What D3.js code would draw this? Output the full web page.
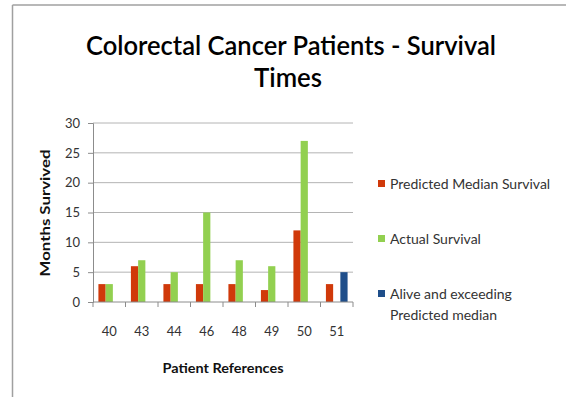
<!DOCTYPE html>
<html>
<head>
<meta charset="utf-8">
<script src="https://cdn.jsdelivr.net/npm/d3@7"></script>
<style>
  html, body { margin: 0; padding: 0; background: #fff; }
  svg { display: block; font-family: Lato, "Open Sans", sans-serif; }
</style>
</head>
<body>
<svg id="chart" width="566" height="397"></svg>
<script>
// Patient reference numbers along the x axis
const patients = ["40", "43", "44", "46", "48", "49", "50", "51"];
// Months survived, one array per series
const predictedMedian = [3, 6, 3, 3, 3, 2, 12, 3];
const actualSurvival = [3, 7, 5, 15, 7, 6, 27, 0];
const aliveExceeding = [0, 0, 0, 0, 0, 0, 0, 5];
const yTicks = [0, 5, 10, 15, 20, 25, 30];

const seriesNames = ["Predicted Median Survival", "Actual Survival", "Alive and exceeding\nPredicted median"];
const seriesColors = ["#D0390A", "#92D050", "#1F4E8A"];
const seriesValues = [predictedMedian, actualSurvival, aliveExceeding];

const svg = d3.select("#chart");

// frame edges
svg.append("line").attr("x1", 12.5).attr("x2", 566).attr("y1", 5).attr("y2", 5)
  .attr("stroke", "#a0a0a0").attr("stroke-width", 1.5);
svg.append("line").attr("x1", 12.5).attr("x2", 12.5).attr("y1", 5).attr("y2", 397)
  .attr("stroke", "#a0a0a0").attr("stroke-width", 1.5);

// title
const title = svg.append("g").attr("fill", "#000").attr("font-weight", 600).attr("font-size", 27);
title.append("text").attr("x", 291).attr("y", 55).attr("text-anchor", "middle")
  .attr("textLength", 410).attr("lengthAdjust", "spacingAndGlyphs")
  .text("Colorectal Cancer Patients - Survival");
title.append("text").attr("x", 288).attr("y", 87).attr("text-anchor", "middle")
  .attr("textLength", 68).attr("lengthAdjust", "spacingAndGlyphs")
  .text("Times");

const plotLeft = 93, plotRight = 353, plotTop = 123, plotBottom = 302;

const x = d3.scaleBand().domain(patients).range([plotLeft, plotRight]).paddingInner(0).paddingOuter(0);
const y = d3.scaleLinear().domain([0, 30]).range([plotBottom, plotTop]);

// bars within each category: 3 slots, Excel-like gap width 150%
const slotWidth = x.bandwidth() / 4.5;
const groupOffset = (x.bandwidth() - slotWidth * 3) / 2;

// gridlines
svg.append("g").selectAll("line").data(yTicks.filter(d => d > 0)).join("line")
  .attr("x1", plotLeft).attr("x2", plotRight)
  .attr("y1", d => y(d)).attr("y2", d => y(d))
  .attr("stroke", "#b4b4b4").attr("stroke-width", 1);

// y axis
const yAxis = svg.append("g").attr("transform", `translate(${plotLeft},0)`)
  .call(d3.axisLeft(y).tickValues(yTicks).tickSize(5).tickPadding(8));
yAxis.select(".domain").attr("stroke", "#8c8c8c");
yAxis.selectAll(".tick line").attr("stroke", "#8c8c8c");
yAxis.selectAll(".tick text").attr("font-family", "Lato, sans-serif").attr("font-size", 13).attr("fill", "#333");

// bars
seriesValues.forEach((vals, si) => {
  svg.append("g").selectAll("rect").data(vals.map((v, i) => ({ p: patients[i], v })))
    .join("rect")
    .attr("x", d => x(d.p) + groupOffset + si * slotWidth)
    .attr("y", d => y(d.v))
    .attr("width", slotWidth)
    .attr("height", d => plotBottom - y(d.v))
    .attr("fill", seriesColors[si]);
});

// x axis
const xAxisG = svg.append("g").attr("transform", `translate(0,${plotBottom})`);
xAxisG.append("line").attr("x1", plotLeft).attr("x2", plotRight).attr("y1", 0).attr("y2", 0)
  .attr("stroke", "#8c8c8c");
const boundaries = patients.map(p => x(p)).concat([plotRight]);
xAxisG.selectAll("line.tk").data(boundaries).join("line").attr("class", "tk")
  .attr("x1", d => d).attr("x2", d => d).attr("y1", 0).attr("y2", 5)
  .attr("stroke", "#8c8c8c");
xAxisG.selectAll("text").data(patients).join("text")
  .attr("x", d => x(d) + x.bandwidth() / 2).attr("y", 34)
  .attr("text-anchor", "middle").attr("font-size", 13).attr("fill", "#333")
  .text(d => d);

// axis titles
svg.append("text").attr("x", 223).attr("y", 373).attr("text-anchor", "middle")
  .attr("font-size", 14).attr("font-weight", 700).attr("fill", "#111")
  .attr("textLength", 121).attr("lengthAdjust", "spacingAndGlyphs")
  .text("Patient References");
svg.append("text").attr("transform", "translate(50,213) rotate(-90)")
  .attr("text-anchor", "middle").attr("font-size", 14).attr("font-weight", 700).attr("fill", "#111")
  .attr("textLength", 127).attr("lengthAdjust", "spacingAndGlyphs")
  .text("Months Survived");

// legend
const legendY = [184, 239, 294];
const legend = svg.append("g");
seriesNames.forEach((name, i) => {
  legend.append("rect").attr("x", 378).attr("y", legendY[i] - 4).attr("width", 7).attr("height", 7)
    .attr("fill", seriesColors[i]);
  name.split("\n").forEach((line, j) => {
    legend.append("text").attr("x", 390).attr("y", legendY[i] + 5 + j * 21)
      .attr("font-size", 14).attr("fill", "#333").text(line);
  });
});
</script>
</body>
</html>
